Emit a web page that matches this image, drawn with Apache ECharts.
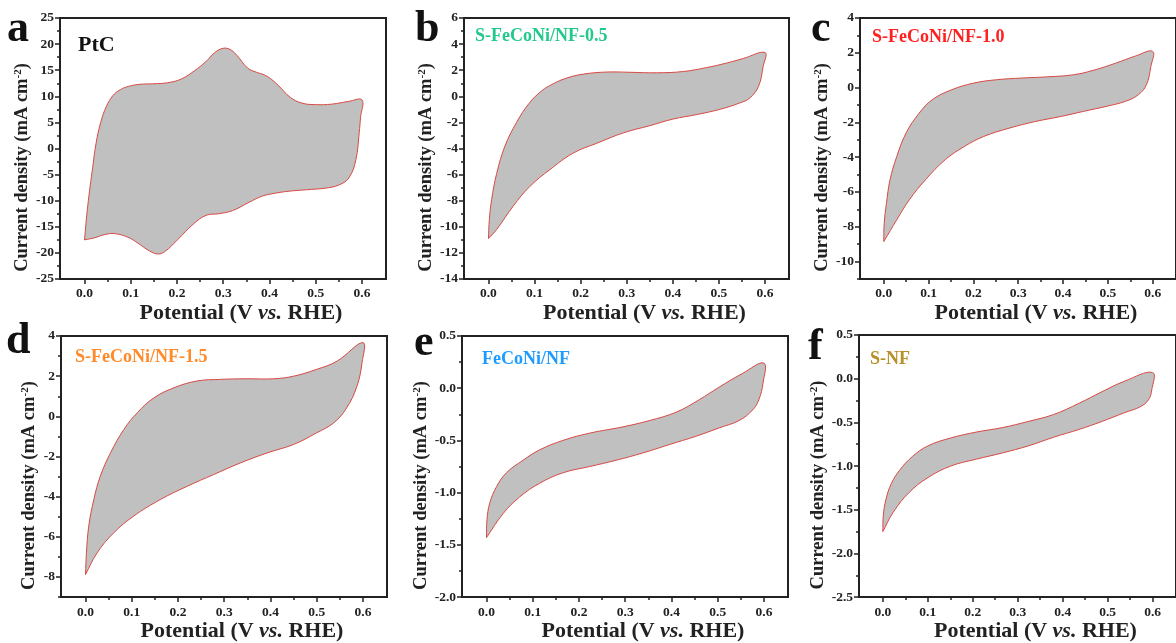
<!DOCTYPE html>
<html>
<head>
<meta charset="utf-8">
<script src="https://cdn.jsdelivr.net/npm/echarts@6/dist/echarts.min.js"></script>
<style>
html,body{margin:0;padding:0;background:#fff;}
#chart{width:1176px;height:643px;}
</style>
</head>
<body>
<div id="chart"></div>
<script>
// ---------------- data ----------------
const sampleNames = ['PtC', 'S-FeCoNi/NF-0.5', 'S-FeCoNi/NF-1.0', 'S-FeCoNi/NF-1.5', 'FeCoNi/NF', 'S-NF'];
const panelLetters = ['a', 'b', 'c', 'd', 'e', 'f'];

const xMajorTicks = [0.0, 0.1, 0.2, 0.3, 0.4, 0.5, 0.6];
const xMinorTicks = [0.05, 0.15, 0.25, 0.35, 0.45, 0.55];

const yMajorA = [-25, -20, -15, -10, -5, 0, 5, 10, 15, 20, 25];
const yMinorA = [-22.5, -17.5, -12.5, -7.5, -2.5, 2.5, 7.5, 12.5, 17.5, 22.5];
const yMajorB = [-14, -12, -10, -8, -6, -4, -2, 0, 2, 4, 6];
const yMinorB = [-13, -11, -9, -7, -5, -3, -1, 1, 3, 5];
const yMajorC = [-10, -8, -6, -4, -2, 0, 2, 4];
const yMinorC = [-11, -9, -7, -5, -3, -1, 1, 3];
const yMajorD = [-8, -6, -4, -2, 0, 2, 4];
const yMinorD = [-9, -7, -5, -3, -1, 1, 3];
const yMajorE = [-2.0, -1.5, -1.0, -0.5, 0.0, 0.5];
const yMinorE = [-1.75, -1.25, -0.75, -0.25, 0.25];
const yMajorF = [-2.5, -2.0, -1.5, -1.0, -0.5, 0.0, 0.5];
const yMinorF = [-2.25, -1.75, -1.25, -0.75, -0.25, 0.25];

// anodic (forward) and cathodic (reverse) scans [potential V, current density mA cm-2]
const ptcForward = [[0,-17.5],[0.007,-11],[0.018,-3.4],[0.025,1.0],[0.035,5.0],[0.047,8.0],[0.062,10.2],[0.078,11.3],[0.095,11.9],[0.12,12.3],[0.15,12.4],[0.18,12.6],[0.209,13.3],[0.238,14.9],[0.262,16.6],[0.282,18.4],[0.30,19.2],[0.314,19.0],[0.328,18.0],[0.353,15.4],[0.372,14.6],[0.389,14.1],[0.405,13.2],[0.42,12.0],[0.445,9.8],[0.47,8.7],[0.5,8.4],[0.535,8.5],[0.570,9.0],[0.6,9.3]];
const ptcReverse = [[0.6,9.3],[0.597,6],[0.594,3],[0.587,-2.1],[0.572,-5.6],[0.55,-7.0],[0.52,-7.6],[0.48,-7.9],[0.44,-8.2],[0.41,-8.6],[0.385,-9.1],[0.356,-10.3],[0.32,-11.9],[0.29,-12.5],[0.263,-12.8],[0.235,-14.5],[0.201,-17.5],[0.173,-19.8],[0.158,-20.2],[0.14,-19.6],[0.115,-18.1],[0.094,-17.0],[0.065,-16.3],[0.043,-16.5],[0.022,-17.1],[0,-17.5]];

const b05Forward = [[0,-10.9],[0.002,-9.45],[0.007,-7.9],[0.018,-5.9],[0.036,-3.8],[0.061,-2.0],[0.088,-0.55],[0.115,0.4],[0.14,0.95],[0.17,1.4],[0.206,1.7],[0.257,1.86],[0.307,1.84],[0.365,1.8],[0.423,1.9],[0.473,2.2],[0.517,2.55],[0.553,2.9],[0.6,3.35]];
const b05Reverse = [[0.6,3.35],[0.596,2.3],[0.586,0.77],[0.567,-0.13],[0.546,-0.5],[0.502,-1.0],[0.452,-1.4],[0.401,-1.74],[0.35,-2.25],[0.293,-2.8],[0.235,-3.6],[0.184,-4.35],[0.134,-5.6],[0.09,-6.9],[0.054,-8.4],[0.018,-10.2],[0,-10.9]];

const c10Forward = [[0,-8.85],[0.001,-7.8],[0.006,-6.65],[0.014,-5.3],[0.029,-3.96],[0.05,-2.6],[0.079,-1.47],[0.108,-0.7],[0.151,-0.13],[0.201,0.26],[0.251,0.45],[0.309,0.55],[0.366,0.62],[0.424,0.74],[0.467,0.99],[0.517,1.4],[0.56,1.8],[0.6,2.08]];
const c10Reverse = [[0.6,2.08],[0.596,1.22],[0.586,0.16],[0.568,-0.41],[0.539,-0.79],[0.496,-1.08],[0.445,-1.37],[0.395,-1.66],[0.338,-1.95],[0.28,-2.33],[0.223,-2.81],[0.18,-3.38],[0.137,-4.15],[0.093,-5.3],[0.057,-6.45],[0.029,-7.6],[0,-8.85]];

const d15Forward = [[0,-7.88],[0.002,-6.8],[0.007,-5.47],[0.018,-4.14],[0.032,-2.98],[0.054,-1.82],[0.083,-0.65],[0.112,0.18],[0.148,0.92],[0.191,1.42],[0.241,1.76],[0.292,1.84],[0.349,1.87],[0.407,1.87],[0.45,2.0],[0.5,2.34],[0.544,2.75],[0.6,3.67]];
const d15Reverse = [[0.6,3.67],[0.598,2.67],[0.587,1.5],[0.565,0.43],[0.537,-0.32],[0.5,-0.82],[0.45,-1.4],[0.393,-1.82],[0.335,-2.32],[0.277,-2.9],[0.22,-3.48],[0.162,-4.14],[0.104,-4.97],[0.061,-5.8],[0.025,-6.8],[0,-7.88]];

const eForward = [[0,-1.43],[0.001,-1.26],[0.007,-1.1],[0.022,-0.94],[0.043,-0.81],[0.079,-0.69],[0.115,-0.59],[0.165,-0.5],[0.223,-0.43],[0.295,-0.37],[0.352,-0.31],[0.41,-0.23],[0.46,-0.11],[0.503,0.01],[0.553,0.14],[0.6,0.24]];
const eReverse = [[0.6,0.24],[0.598,0.05],[0.589,-0.11],[0.575,-0.21],[0.546,-0.31],[0.503,-0.38],[0.453,-0.46],[0.395,-0.54],[0.338,-0.62],[0.28,-0.69],[0.223,-0.75],[0.165,-0.81],[0.115,-0.91],[0.072,-1.04],[0.036,-1.2],[0,-1.43]];

const fForward = [[0,-1.75],[0.001,-1.57],[0.007,-1.38],[0.019,-1.2],[0.037,-1.05],[0.066,-0.89],[0.1,-0.77],[0.15,-0.68],[0.209,-0.61],[0.266,-0.56],[0.323,-0.49],[0.38,-0.41],[0.437,-0.28],[0.487,-0.15],[0.537,-0.03],[0.6,0.07]];
const fReverse = [[0.6,0.07],[0.598,-0.13],[0.591,-0.24],[0.573,-0.32],[0.537,-0.39],[0.487,-0.49],[0.437,-0.58],[0.38,-0.67],[0.323,-0.77],[0.266,-0.85],[0.209,-0.92],[0.151,-1.0],[0.101,-1.13],[0.059,-1.3],[0.023,-1.53],[0,-1.75]];

// ---------------- layout / style ----------------
const SERIF = '"Liberation Serif", "Times New Roman", "DejaVu Serif", serif';
const AX = '#222';
const panels = [
  {fwd: ptcForward, rev: ptcReverse, yMin: -25, yMax: 25, yMaj: yMajorA, yMin2: yMinorA, dec: 0, color: '#111', grid: {left: 60, top: 18, width: 326, height: 261}, letter: {x: 7, y: 30}, label: {x: 78, y: 45, size: 22}},
  {fwd: b05Forward, rev: b05Reverse, yMin: -14, yMax: 6, yMaj: yMajorB, yMin2: yMinorB, dec: 0, color: '#22c98b', grid: {left: 464, top: 18, width: 325, height: 261}, letter: {x: 415, y: 30}, label: {x: 475, y: 36.5, size: 18}},
  {fwd: c10Forward, rev: c10Reverse, yMin: -11, yMax: 4, yMaj: yMajorC, yMin2: yMinorC, dec: 0, color: '#ff2020', grid: {left: 860, top: 18, width: 326, height: 261}, letter: {x: 811, y: 30}, label: {x: 872, y: 37.5, size: 18}},
  {fwd: d15Forward, rev: d15Reverse, yMin: -9, yMax: 4, yMaj: yMajorD, yMin2: yMinorD, dec: 0, color: '#ff8a2a', grid: {left: 61, top: 336, width: 326, height: 262}, letter: {x: 6, y: 342}, label: {x: 75, y: 357.5, size: 18}},
  {fwd: eForward, rev: eReverse, yMin: -2, yMax: 0.5, yMaj: yMajorE, yMin2: yMinorE, dec: 1, color: '#1e9bff', grid: {left: 462, top: 336, width: 326, height: 262}, letter: {x: 414, y: 344}, label: {x: 482, y: 359.5, size: 18}},
  {fwd: fForward, rev: fReverse, yMin: -2.5, yMax: 0.5, yMaj: yMajorF, yMin2: yMinorF, dec: 1, color: '#b8902a', grid: {left: 859, top: 335, width: 326, height: 263}, letter: {x: 808, y: 348}, label: {x: 870, y: 359.5, size: 18}}
];

const grids = [], xAxes = [], yAxes = [], series = [], graphics = [];
const X_MIN = -0.053, X_MAX = 0.652;

panels.forEach((p, i) => {
  grids.push(Object.assign({show: true, borderColor: AX, borderWidth: 2, backgroundColor: 'transparent', containLabel: false}, p.grid));
  xAxes.push({
    type: 'value', gridIndex: i, min: X_MIN, max: X_MAX, position: 'bottom',
    axisLine: {show: true, onZero: false, lineStyle: {color: AX, width: 2}},
    axisTick: {show: true, inside: false, length: 5, customValues: xMajorTicks, lineStyle: {color: AX, width: 1.5}},
    axisLabel: {show: true, customValues: xMajorTicks, margin: 8, formatter: v => v.toFixed(1), fontFamily: SERIF, fontWeight: 'bold', fontSize: 13.5, color: AX},
    splitLine: {show: false},
    name: 'Potential (V {it|vs.} RHE)', nameLocation: 'middle', nameGap: 19,
    nameTextStyle: {fontFamily: SERIF, fontWeight: 'bold', fontSize: 22, color: AX, padding: [0, 0, 0, 36],
      rich: {it: {fontFamily: SERIF, fontWeight: 'bold', fontStyle: 'italic', fontSize: 22, color: AX}}}
  });
  xAxes.push({
    type: 'value', gridIndex: i, min: X_MIN, max: X_MAX, position: 'bottom',
    axisLine: {show: false, onZero: false},
    axisTick: {show: true, inside: false, length: 3, customValues: xMinorTicks, lineStyle: {color: AX, width: 1.5}},
    axisLabel: {show: false}, splitLine: {show: false}
  });
  yAxes.push({
    type: 'value', gridIndex: i, min: p.yMin, max: p.yMax, position: 'left',
    axisLine: {show: true, onZero: false, lineStyle: {color: AX, width: 2}},
    axisTick: {show: true, inside: false, length: 5, customValues: p.yMaj, lineStyle: {color: AX, width: 1.5}},
    axisLabel: {show: true, customValues: p.yMaj, margin: 6, formatter: v => v.toFixed(p.dec), fontFamily: SERIF, fontWeight: 'bold', fontSize: 13.5, color: AX},
    splitLine: {show: false},
    name: 'Current density (mA cm{sup|-2})', nameLocation: 'middle', nameGap: 22,
    nameTextStyle: {fontFamily: SERIF, fontWeight: 'bold', fontSize: 18.5, color: AX, padding: [0, 38, 0, 0],
      rich: {sup: {fontFamily: SERIF, fontWeight: 'bold', fontSize: 11, color: AX, verticalAlign: 'top', padding: [0, 0, 8, 0]}}}
  });
  yAxes.push({
    type: 'value', gridIndex: i, min: p.yMin, max: p.yMax, position: 'left',
    axisLine: {show: false, onZero: false},
    axisTick: {show: true, inside: false, length: 3, customValues: p.yMin2, lineStyle: {color: AX, width: 1.5}},
    axisLabel: {show: false}, splitLine: {show: false}
  });

  const loop = p.fwd.concat(p.rev.slice(1));
  series.push({
    type: 'custom', coordinateSystem: 'cartesian2d', xAxisIndex: 2 * i, yAxisIndex: 2 * i,
    data: loop, encode: {x: 0, y: 1}, silent: true, animation: false, z: 3,
    renderItem: (params, api) => {
      if (params.dataIndex !== 0) return null;
      const pts = loop.map(pt => api.coord(pt));
      return {type: 'polygon', shape: {points: pts, smooth: 0.4},
        style: {fill: '#c0c0c0', stroke: '#d84a44', lineWidth: 1}};
    }
  });

  graphics.push({type: 'text', x: p.letter.x, y: p.letter.y, z: 10,
    style: {text: panelLetters[i], font: 'bold 44px ' + SERIF, fill: '#111', textVerticalAlign: 'middle', textAlign: 'left'}});
  graphics.push({type: 'text', x: p.label.x, y: p.label.y, z: 10,
    style: {text: sampleNames[i], font: 'bold ' + p.label.size + 'px ' + SERIF, fill: p.color, textVerticalAlign: 'middle', textAlign: 'left'}});
});

const chart = echarts.init(document.getElementById('chart'), null, {renderer: 'canvas'});
chart.setOption({
  backgroundColor: '#ffffff',
  animation: false,
  grid: grids,
  xAxis: xAxes,
  yAxis: yAxes,
  series: series,
  graphic: graphics
});
</script>
</body>
</html>
